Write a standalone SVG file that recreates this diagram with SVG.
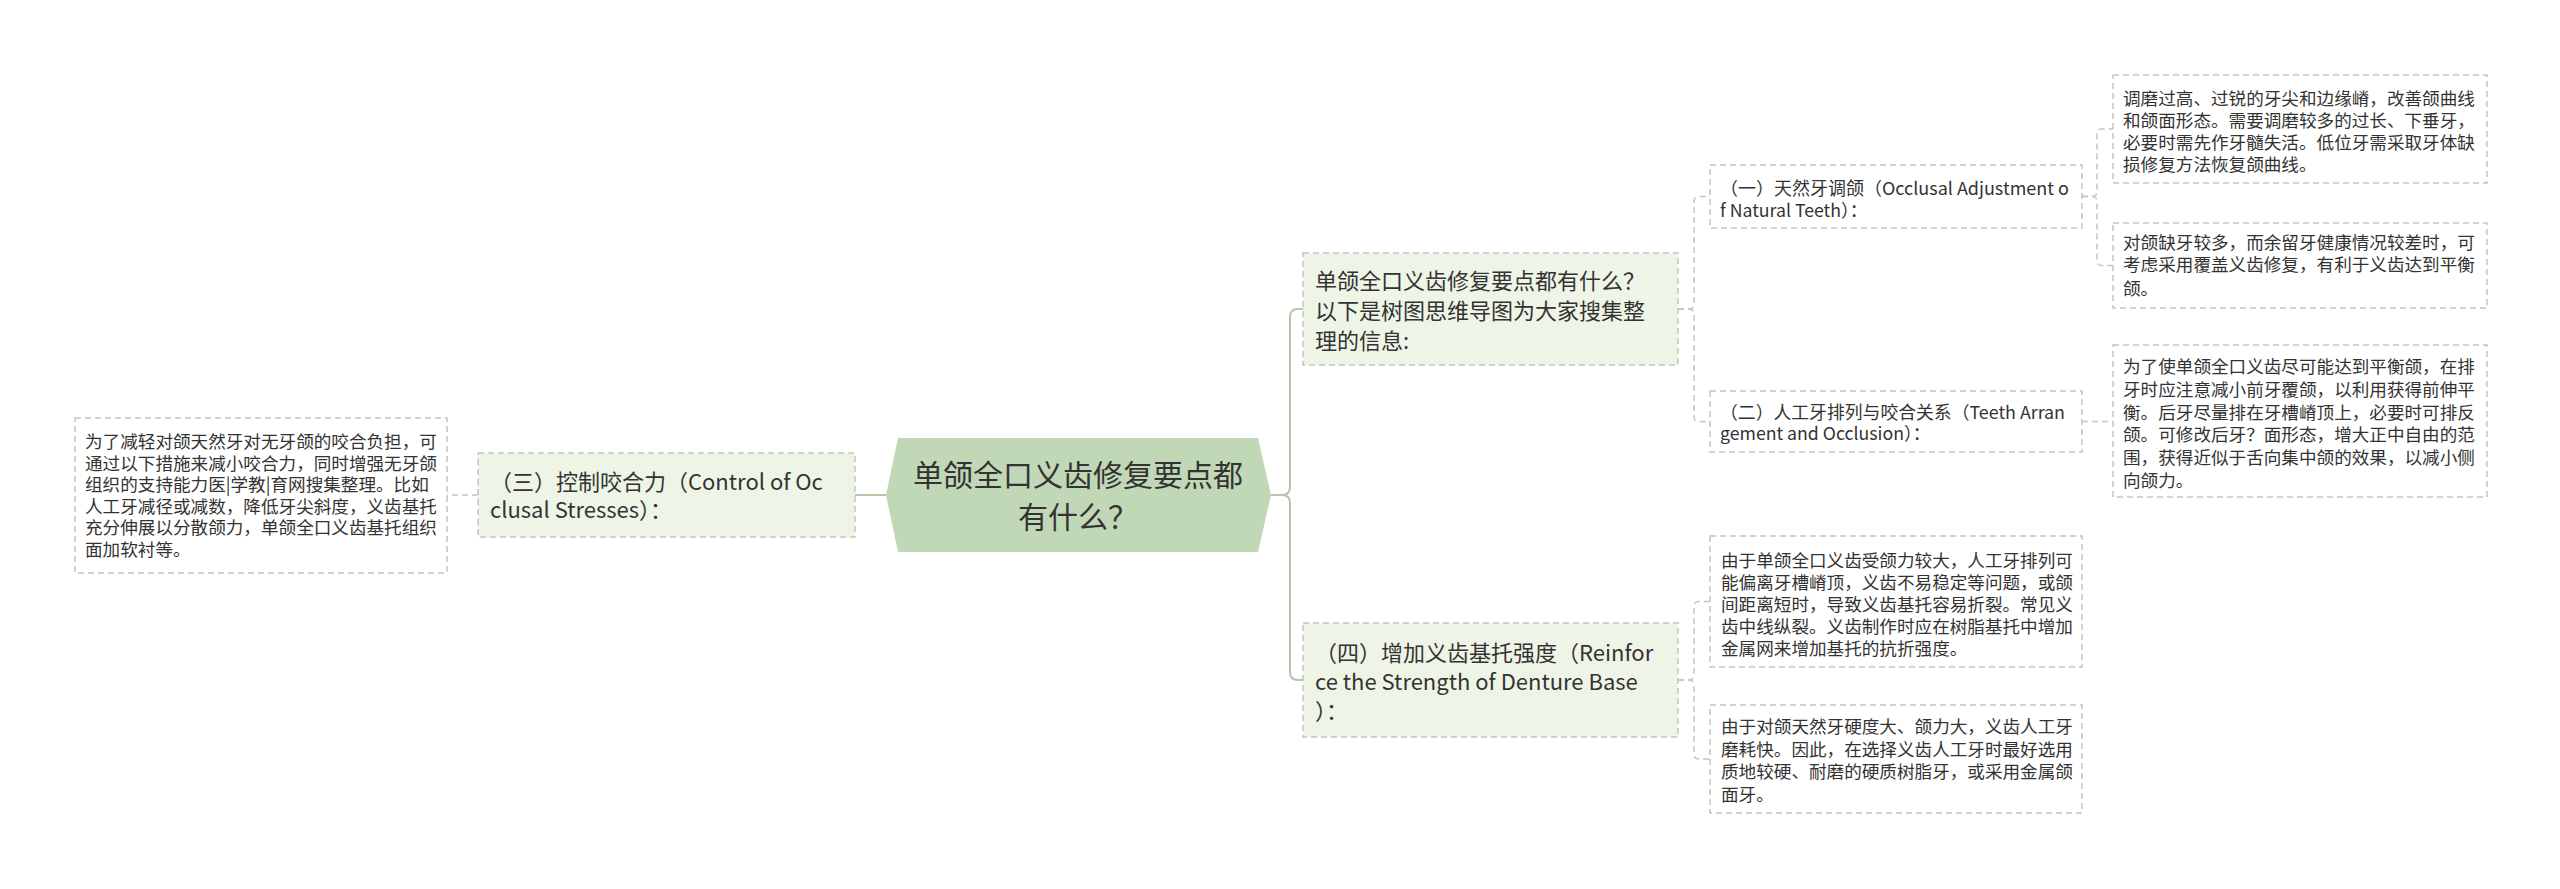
<svg xmlns="http://www.w3.org/2000/svg" width="2560" height="889" viewBox="0 0 2560 889">
<style>
text{font-family:"Noto Sans CJK SC","Noto Sans",sans-serif;fill:#333333;}
.center{font-size:30px;text-anchor:middle;}
.l1{font-size:22px;}
.l2{font-size:17.7px;}
.leaf{font-size:17.6px;}
.box1{fill:#eff5e6;stroke:#c4c4c4;stroke-width:1.5;stroke-dasharray:6 4;}
.box2{fill:#ffffff;stroke:#c4c4c4;stroke-width:1.5;stroke-dasharray:6 4;}
.solid{fill:none;stroke:#b4c6a8;stroke-width:2;}
.dash{fill:none;stroke:#c4c4c4;stroke-width:1.5;stroke-dasharray:6 4;}
</style>
<rect width="2560" height="889" fill="#ffffff"/>
<g id="connectors">
<path class="solid" d="M886,495 H855"/>
<path class="dash" d="M478,495 H447"/>
<path class="solid" d="M1271,495 L1282,495 Q1290,495 1290,487 L1290,317 Q1290,309 1298,309 L1303,309"/>
<path class="solid" d="M1271,495 L1282,495 Q1290,495 1290,503 L1290,672 Q1290,680 1298,680 L1303,680"/>
<path class="dash" d="M1678,309 L1689,309 Q1694,309 1694,304 L1694,201.5 Q1694,196.5 1699,196.5 L1710,196.5"/>
<path class="dash" d="M1678,309 L1689,309 Q1694,309 1694,314 L1694,416.5 Q1694,421.5 1699,421.5 L1710,421.5"/>
<path class="dash" d="M1678,680 L1689,680 Q1694,680 1694,675 L1694,606.5 Q1694,601.5 1699,601.5 L1710,601.5"/>
<path class="dash" d="M1678,680 L1689,680 Q1694,680 1694,685 L1694,754 Q1694,759 1699,759 L1710,759"/>
<path class="dash" d="M2082,196.5 L2092,196.5 Q2097,196.5 2097,191.5 L2097,134 Q2097,129 2102,129 L2113,129"/>
<path class="dash" d="M2082,196.5 L2092,196.5 Q2097,196.5 2097,201.5 L2097,260.5 Q2097,265.5 2102,265.5 L2113,265.5"/>
<path class="dash" d="M2082,421.5 H2113"/>
</g>
<g id="center">
<polygon points="886,495 898,438 1258,438 1271,495 1258,552 898,552" fill="#c1d8b6"/>
<text class="center"><tspan x="1078" y="486">单颌全口义齿修复要点都</tspan><tspan x="1078" y="528">有什么？</tspan></text>
</g>
<g id="node-3">
<rect class="box1" x="478" y="453" width="377" height="84"/>
<text class="l1"><tspan x="490" y="490">（三）控制咬合力（Control of Oc</tspan><tspan x="490" y="518">clusal Stresses）：</tspan></text>
</g>
<g id="leaf-3">
<rect class="box2" x="75" y="418" width="372" height="155"/>
<text class="leaf"><tspan x="85" y="448">为了减轻对颌天然牙对无牙颌的咬合负担，可</tspan><tspan x="85" y="469.5">通过以下措施来减小咬合力，同时增强无牙颌</tspan><tspan x="85" y="491">组织的支持能力医|学教|育网搜集整理。比如</tspan><tspan x="85" y="512.5">人工牙减径或减数，降低牙尖斜度，义齿基托</tspan><tspan x="85" y="534">充分伸展以分散颌力，单颌全口义齿基托组织</tspan><tspan x="85" y="555.5">面加软衬等。</tspan></text>
</g>
<g id="node-intro">
<rect class="box1" x="1303" y="253" width="375" height="112"/>
<text class="l1"><tspan x="1315" y="289">单颌全口义齿修复要点都有什么？</tspan><tspan x="1315" y="319">以下是树图思维导图为大家搜集整</tspan><tspan x="1315" y="349">理的信息:</tspan></text>
</g>
<g id="node-4">
<rect class="box1" x="1303" y="623" width="375" height="114"/>
<text class="l1"><tspan x="1315" y="661">（四）增加义齿基托强度（Reinfor</tspan><tspan x="1315" y="690">ce the Strength of Denture Base</tspan><tspan x="1315" y="719">）：</tspan></text>
</g>
<g id="node-1">
<rect class="box2" x="1710" y="165" width="372" height="63"/>
<text class="l2"><tspan x="1720" y="194.5" textLength="349" lengthAdjust="spacingAndGlyphs">（一）天然牙调颌（Occlusal Adjustment o</tspan><tspan x="1720" y="216.5">f Natural Teeth）：</tspan></text>
</g>
<g id="node-2">
<rect class="box2" x="1710" y="391" width="372" height="61"/>
<text class="l2"><tspan x="1720" y="418.5" textLength="345" lengthAdjust="spacingAndGlyphs">（二）人工牙排列与咬合关系（Teeth Arran</tspan><tspan x="1720" y="440">gement and Occlusion）：</tspan></text>
</g>
<g id="leaf-1a">
<rect class="box2" x="2113" y="75" width="374" height="108"/>
<text class="leaf"><tspan x="2123" y="105">调磨过高、过锐的牙尖和边缘嵴，改善颌曲线</tspan><tspan x="2123" y="127">和颌面形态。需要调磨较多的过长、下垂牙，</tspan><tspan x="2123" y="149">必要时需先作牙髓失活。低位牙需采取牙体缺</tspan><tspan x="2123" y="171">损修复方法恢复颌曲线。</tspan></text>
</g>
<g id="leaf-1b">
<rect class="box2" x="2113" y="223" width="374" height="85"/>
<text class="leaf"><tspan x="2123" y="248.5">对颌缺牙较多，而余留牙健康情况较差时，可</tspan><tspan x="2123" y="271">考虑采用覆盖义齿修复，有利于义齿达到平衡</tspan><tspan x="2123" y="294.5">颌。</tspan></text>
</g>
<g id="leaf-2">
<rect class="box2" x="2113" y="345" width="374" height="152"/>
<text class="leaf"><tspan x="2123" y="373">为了使单颌全口义齿尽可能达到平衡颌，在排</tspan><tspan x="2123" y="395.8">牙时应注意减小前牙覆颌，以利用获得前伸平</tspan><tspan x="2123" y="418.6">衡。后牙尽量排在牙槽嵴顶上，必要时可排反</tspan><tspan x="2123" y="441.4">颌。可修改后牙？面形态，增大正中自由的范</tspan><tspan x="2123" y="464.2">围，获得近似于舌向集中颌的效果，以减小侧</tspan><tspan x="2123" y="487">向颌力。</tspan></text>
</g>
<g id="leaf-4a">
<rect class="box2" x="1710" y="536" width="372" height="131"/>
<text class="leaf"><tspan x="1721" y="566.5">由于单颌全口义齿受颌力较大，人工牙排列可</tspan><tspan x="1721" y="588.5">能偏离牙槽嵴顶，义齿不易稳定等问题，或颌</tspan><tspan x="1721" y="610.5">间距离短时，导致义齿基托容易折裂。常见义</tspan><tspan x="1721" y="632.5">齿中线纵裂。义齿制作时应在树脂基托中增加</tspan><tspan x="1721" y="654.5">金属网来增加基托的抗折强度。</tspan></text>
</g>
<g id="leaf-4b">
<rect class="box2" x="1710" y="705" width="372" height="108"/>
<text class="leaf"><tspan x="1721" y="733">由于对颌天然牙硬度大、颌力大，义齿人工牙</tspan><tspan x="1721" y="755.5">磨耗快。因此，在选择义齿人工牙时最好选用</tspan><tspan x="1721" y="778">质地较硬、耐磨的硬质树脂牙，或采用金属颌</tspan><tspan x="1721" y="800.5">面牙。</tspan></text>
</g>
</svg>
